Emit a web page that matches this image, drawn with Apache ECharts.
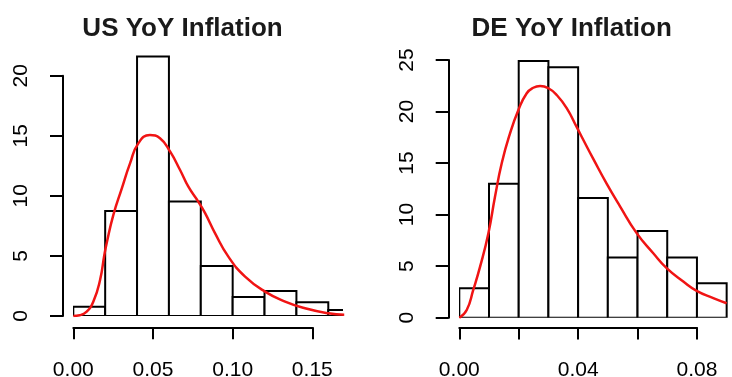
<!DOCTYPE html>
<html>
<head>
<meta charset="utf-8">
<script src="https://cdn.jsdelivr.net/npm/echarts@6/dist/echarts.min.js"></script>
<style>
  html, body { margin: 0; padding: 0; background: #fff; }
  #chart { width: 732px; height: 377px; }
</style>
</head>
<body>
<div id="chart"></div>
<script>
// histogram bins (density) and fitted curve
var usBinStart = 0, usBinWidth = 0.02;
var usDensity = [0.78, 8.75, 21.6, 9.53, 4.17, 1.58, 2.08, 1.14, 0.5];
var usCurveX = [0, 0.004, 0.0084, 0.0126, 0.0168, 0.0195, 0.021, 0.0251, 0.0304, 0.0356, 0.0408, 0.0481,
  0.0544, 0.0607, 0.067, 0.0722, 0.0785, 0.0827, 0.0889, 0.0973, 0.1078, 0.1203, 0.1329, 0.1454, 0.160, 0.17];
var usCurveY = [0, 0.06, 0.36, 1.2, 3.0, 5.1, 6.1, 8.4, 10.6, 12.7, 14.37, 15.06,
  14.8, 13.7, 12.15, 10.76, 9.5, 8.56, 6.9, 4.94, 3.28, 2.03, 1.2, 0.64, 0.22, 0.1];

var deBinStart = 0, deBinWidth = 0.01;
var deDensity = [2.85, 13.0, 24.9, 24.3, 11.6, 5.85, 8.4, 5.85, 3.33];
var deCurveX = [0, 0.0025, 0.0047, 0.007, 0.0098, 0.012, 0.0143, 0.0171, 0.0199, 0.0227, 0.0249, 0.0272,
  0.03, 0.0328, 0.0362, 0.0395, 0.0429, 0.0451, 0.0496, 0.0541, 0.0597, 0.0653, 0.0698, 0.0754, 0.0799, 0.0855, 0.09];
var deCurveY = [0, 0.75, 2.7, 4.95, 8.2, 11.7, 15.0, 17.9, 20.15, 21.77, 22.3, 22.47,
  22.25, 21.6, 20.3, 18.5, 16.6, 15.4, 13.0, 10.8, 8.2, 6.25, 4.8, 3.5, 2.6, 1.9, 1.4];

var usXTicks = [0, 0.05, 0.10, 0.15];
var usXLabels = [0, 0.05, 0.10, 0.15];
var usYTicks = [0, 5, 10, 15, 20];
var deXTicks = [0, 0.02, 0.04, 0.06, 0.08];
var deXLabels = [0, 0.04, 0.08];
var deYTicks = [0, 5, 10, 15, 20, 25];

var titles = ["US YoY Inflation", "DE YoY Inflation"];

var FONT = "Liberation Sans, Arial, Helvetica, sans-serif";

function bins(start, width, dens) {
  return dens.map(function (d, i) {
    return [start + i * width, start + (i + 1) * width, d];
  });
}
function pairs(xs, ys) {
  return xs.map(function (x, i) { return [x, ys[i]]; });
}

function renderBar(params, api) {
  var a = api.coord([api.value(0), api.value(2)]);
  var b = api.coord([api.value(1), 0]);
  return {
    type: "rect",
    shape: { x: a[0], y: a[1], width: b[0] - a[0], height: b[1] - a[1] },
    style: { fill: "#fff", stroke: "#000", lineWidth: 2 }
  };
}

var hidden = { show: false };
function plotX(idx, max) {
  return { gridIndex: idx, type: "value", min: 0, max: max, show: false };
}
function plotY(idx, max) {
  return { gridIndex: idx, type: "value", min: 0, max: max, show: false };
}
function xAxisOnly(idx, max, interval, ticks, labels) {
  return {
    gridIndex: idx, type: "value", min: 0, max: max, interval: interval,
    position: "bottom",
    axisLine: { show: true, lineStyle: { color: "#000", width: 2 } },
    axisTick: { show: true, length: 12, customValues: ticks, lineStyle: { color: "#000", width: 2 } },
    axisLabel: {
      customValues: labels, margin: 32, color: "#000", fontSize: 21, fontFamily: FONT,
      formatter: function (v) { return v.toFixed(2); }
    },
    splitLine: hidden
  };
}
function yAxisOnly(idx, max, ticks) {
  return {
    gridIndex: idx, type: "value", min: 0, max: max, interval: 5,
    position: "left",
    axisLine: { show: true, lineStyle: { color: "#000", width: 2 } },
    axisTick: { show: true, length: 13, customValues: ticks, lineStyle: { color: "#000", width: 2 } },
    axisLabel: {
      customValues: ticks, rotate: 90, margin: 31, color: "#000", fontSize: 21, fontFamily: FONT
    },
    splitLine: hidden
  };
}

var chart = echarts.init(document.getElementById("chart"), null, { renderer: "canvas" });

chart.setOption({
  backgroundColor: "#fff",
  animation: false,
  graphic: [
    { type: "text", x: 182.5, y: 29, style: { text: titles[0], fill: "#1a1a1a", font: "bold 26px " + FONT, align: "center", verticalAlign: "middle" } },
    { type: "text", x: 571.7, y: 29, style: { text: titles[1], fill: "#1a1a1a", font: "bold 26px " + FONT, align: "center", verticalAlign: "middle" } }
  ],
  grid: [
    // US: plot area, x axis strip, y axis strip
    { left: 73.3, top: 45.7, width: 268.7, height: 270.3 },
    { left: 73.3, top: 327, width: 239, height: 1 },
    { left: 63, top: 75.7, width: 10, height: 240.3 },
    // DE
    { left: 459.3, top: 49.6, width: 272.7, height: 268.1 },
    { left: 459.3, top: 327.3, width: 237.7, height: 1 },
    { left: 448.7, top: 60, width: 10, height: 257.7 }
  ],
  xAxis: [
    plotX(0, 0.1686),
    xAxisOnly(1, 0.15, 0.05, usXTicks, usXLabels),
    { gridIndex: 2, type: "value", min: 0, max: 1, show: false },
    plotX(3, 0.0918),
    xAxisOnly(4, 0.08, 0.02, deXTicks, deXLabels),
    { gridIndex: 5, type: "value", min: 0, max: 1, show: false }
  ],
  yAxis: [
    plotY(0, 22.5),
    { gridIndex: 1, type: "value", min: 0, max: 1, show: false },
    yAxisOnly(2, 20, usYTicks),
    plotY(3, 26),
    { gridIndex: 4, type: "value", min: 0, max: 1, show: false },
    yAxisOnly(5, 25, deYTicks)
  ],
  series: [
    {
      type: "custom", xAxisIndex: 0, yAxisIndex: 0, clip: true,
      renderItem: renderBar, encode: { x: [0, 1], y: 2 },
      data: bins(usBinStart, usBinWidth, usDensity)
    },
    {
      type: "line", xAxisIndex: 0, yAxisIndex: 0, z: 5, smooth: 0.5,
      symbol: "none", clip: true,
      lineStyle: { color: "#f01414", width: 2.5 },
      data: pairs(usCurveX, usCurveY)
    },
    {
      type: "custom", xAxisIndex: 3, yAxisIndex: 3, clip: true,
      renderItem: renderBar, encode: { x: [0, 1], y: 2 },
      data: bins(deBinStart, deBinWidth, deDensity)
    },
    {
      type: "line", xAxisIndex: 3, yAxisIndex: 3, z: 5, smooth: 0.5,
      symbol: "none", clip: true,
      lineStyle: { color: "#f01414", width: 2.5 },
      data: pairs(deCurveX, deCurveY)
    }
  ]
});
</script>
</body>
</html>
